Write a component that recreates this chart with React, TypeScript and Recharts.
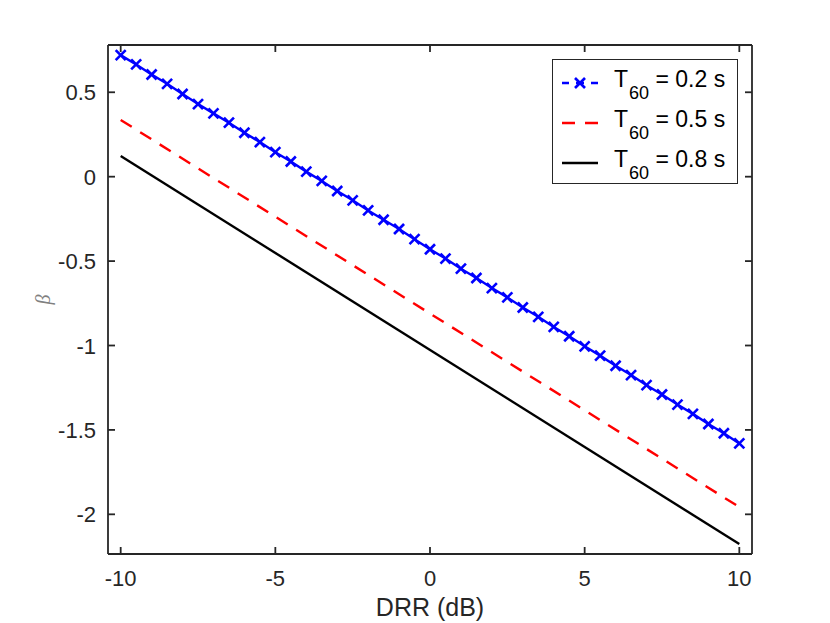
import React from 'react';
import { LineChart, Line, XAxis, YAxis, Label } from 'recharts';

const font = "'Liberation Sans', Arial, Helvetica, sans-serif";
const axisColor = '#262626';

// DRR grid of the marked curve (dB)
const drr = [
  -10, -9.5, -9, -8.5, -8, -7.5, -7, -6.5, -6, -5.5, -5, -4.5, -4, -3.5, -3, -2.5, -2, -1.5, -1, -0.5,
  0, 0.5, 1, 1.5, 2, 2.5, 3, 3.5, 4, 4.5, 5, 5.5, 6, 6.5, 7, 7.5, 8, 8.5, 9, 9.5, 10,
];
const beta02 = [
  0.72, 0.665, 0.605, 0.55, 0.49, 0.43, 0.375, 0.32, 0.26, 0.205, 0.145, 0.09, 0.03, -0.025, -0.085,
  -0.14, -0.2, -0.255, -0.31, -0.37, -0.43, -0.485, -0.545, -0.6, -0.66, -0.715, -0.775, -0.83, -0.89,
  -0.945, -1.005, -1.06, -1.12, -1.175, -1.235, -1.29, -1.35, -1.405, -1.465, -1.52, -1.58,
];
// straight lines, endpoints only
const drrEnds = [-10, 10];
const beta05 = [0.336, -1.957];
const beta08 = [0.123, -2.176];

const xTicks = [-10, -5, 0, 5, 10];
const yTicks = [-2, -1.5, -1, -0.5, 0, 0.5];
const xDomain = [-10.41, 10.41];
const yDomain = [-2.235, 0.78];

const series = [
  { key: 'b02', label: '0.2', color: '#0000ff', dash: '', marker: true },
  { key: 'b05', label: '0.5', color: '#ff0000', dash: '13 10', marker: false },
  { key: 'b08', label: '0.8', color: '#000000', dash: '', marker: false },
];

const data02 = drr.map((x, i) => ({ x, y: beta02[i] }));
const data05 = drrEnds.map((x, i) => ({ x, y: beta05[i] }));
const data08 = drrEnds.map((x, i) => ({ x, y: beta08[i] }));

const Cross = (props: any) => {
  const { cx, cy } = props;
  if (cx == null || cy == null) return null;
  const r = 5;
  return (
    <g stroke="#0000ff" strokeWidth={2.6}>
      <line x1={cx - r} y1={cy - r} x2={cx + r} y2={cy + r} />
      <line x1={cx - r} y1={cy + r} x2={cx + r} y2={cy - r} />
    </g>
  );
};

const BottomLabel = (props: any) => {
  const { x, y, payload } = props;
  return (
    <text x={x} y={y + 32} textAnchor="middle" fill="#262626" fontSize={22} fontFamily={font}>
      {payload.value}
    </text>
  );
};
const LeftLabel = (props: any) => {
  const { x, y, payload } = props;
  return (
    <text x={x - 12} y={y + 8} textAnchor="end" fill="#262626" fontSize={22} fontFamily={font}>
      {payload.value}
    </text>
  );
};
const Blank = () => <g />;

const line = { stroke: axisColor, strokeWidth: 1.8 };

const LegendBox = () => (
  <div
    style={{
      position: 'absolute',
      left: 552,
      top: 59,
      border: `1.8px solid ${axisColor}`,
      background: '#fff',
      width: 186,
      height: 125,
      boxSizing: 'border-box',
      fontFamily: font,
      color: '#000',
    }}
  >
    {series.map((s, i) => (
      <div key={s.key} style={{ position: 'absolute', left: 0, top: 5 + i * 40, height: 40, width: 184 }}>
        <svg width={50} height={40} style={{ position: 'absolute', left: 0, top: 0 }}>
          <line
            x1={9}
            y1={18}
            x2={45}
            y2={18}
            stroke={s.color}
            strokeWidth={2.4}
            strokeDasharray={s.marker ? '7 7 8 7 7' : s.dash ? '13 10' : undefined}
          />
          {s.marker && <Cross cx={27} cy={18} />}
        </svg>
        <div style={{ position: 'absolute', left: 61, top: 0, fontSize: 23, lineHeight: '28px', whiteSpace: 'nowrap' }}>
          T<span style={{ fontSize: 18, position: 'relative', top: 12, marginLeft: 1 }}>60</span> = {s.label} s
        </div>
      </div>
    ))}
  </div>
);

export default function App() {
  return (
    <div style={{ position: 'absolute', left: 0, top: 0, width: 830, height: 623, background: '#fff' }}>
      <LineChart width={830} height={623} margin={{ top: 44, right: 77, left: 0, bottom: 0 }}>
        <XAxis
          xAxisId="b"
          dataKey="x"
          type="number"
          domain={xDomain}
          ticks={xTicks}
          allowDataOverflow
          height={69}
          tickSize={-7}
          tickMargin={7}
          tickLine={line}
          tick={<BottomLabel />}
          axisLine={line}
        >
          <Label
            content={(p: any) => {
              const vb = p.viewBox;
              return (
                <text x={vb.x + vb.width / 2} y={616} textAnchor="middle" fontSize={25} fontFamily={font} fill="#262626">
                  DRR (dB)
                </text>
              );
            }}
          />
        </XAxis>
        <XAxis
          xAxisId="t"
          dataKey="x"
          type="number"
          orientation="top"
          domain={xDomain}
          ticks={xTicks}
          allowDataOverflow
          height={1}
          tickSize={-7}
          tickMargin={0}
          tickLine={line}
          tick={<Blank />}
          axisLine={line}
        />
        <YAxis
          yAxisId="l"
          type="number"
          domain={yDomain}
          ticks={yTicks}
          allowDataOverflow
          width={108}
          tickSize={-7}
          tickMargin={7}
          tickLine={line}
          tick={<LeftLabel />}
          axisLine={line}
        >
          <Label
            content={(p: any) => {
              const vb = p.viewBox;
              const cy = vb.y + vb.height / 2;
              return (
                <text
                  x={43}
                  y={cy}
                  transform={`rotate(-90 43 ${cy})`}
                  textAnchor="middle"
                  dominantBaseline="central"
                  fontSize={20}
                  fontStyle="italic"
                  fontFamily="'Liberation Serif', 'DejaVu Serif', serif"
                  fill="#808080"
                >
                  β
                </text>
              );
            }}
          />
        </YAxis>
        <YAxis
          yAxisId="r"
          type="number"
          orientation="right"
          domain={yDomain}
          ticks={yTicks}
          allowDataOverflow
          width={1}
          tickSize={-7}
          tickMargin={0}
          tickLine={line}
          tick={<Blank />}
          axisLine={line}
        />
        {/* black curve sits on the top/right axes so those get a scale and ticks */}
        <Line
          xAxisId="t"
          yAxisId="r"
          data={data08}
          dataKey="y"
          stroke="#000000"
          strokeWidth={2.4}
          dot={false}
          isAnimationActive={false}
        />
        <Line
          xAxisId="b"
          yAxisId="l"
          data={data05}
          dataKey="y"
          stroke="#ff0000"
          strokeWidth={2.4}
          strokeDasharray="13 10"
          dot={false}
          isAnimationActive={false}
        />
        <Line
          xAxisId="b"
          yAxisId="l"
          data={data02}
          dataKey="y"
          stroke="#0000ff"
          strokeWidth={2.4}
          dot={<Cross />}
          isAnimationActive={false}
        />
      </LineChart>
      <LegendBox />
    </div>
  );
}
